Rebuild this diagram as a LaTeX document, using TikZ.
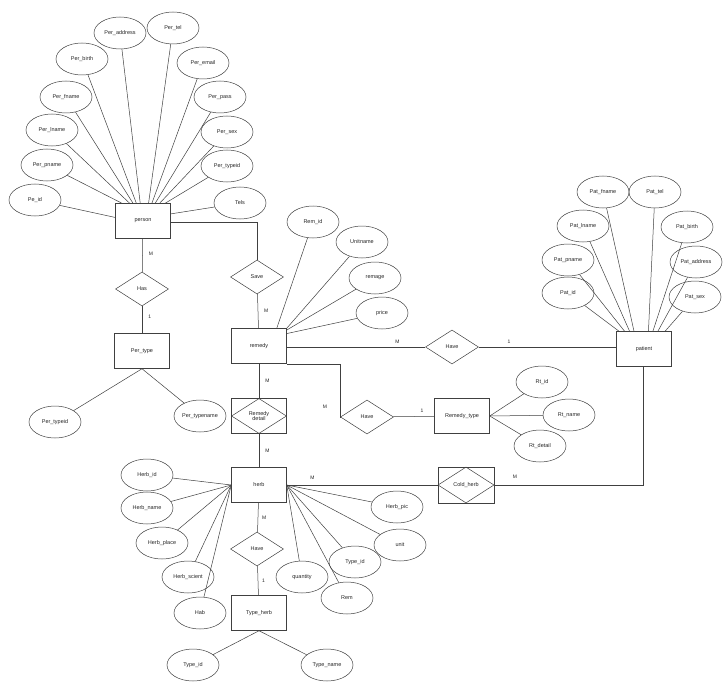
\documentclass[tikz,border=0pt]{standalone}
\usepackage{fontspec}
\setmainfont{Liberation Sans}
\usetikzlibrary{shapes.geometric,calc}
\begin{document}
\begin{tikzpicture}[x=1pt,y=-1pt,
  every node/.style={font=\fontsize{5.5}{6.5}\selectfont, text=black!85},
  attr/.style={ellipse, draw=black!75, line width=0.5pt, minimum width=52pt, minimum height=32pt, inner sep=0pt},
  ent/.style={rectangle, draw=black!75, line width=0.5pt, minimum width=55pt, minimum height=35pt, inner sep=0pt},
  rel/.style={diamond, draw=black!75, line width=0.5pt, minimum width=53pt, minimum height=34pt, inner sep=0pt, aspect=1.6},
  lnk/.style={draw=black!75, line width=0.5pt},
  card/.style={font=\fontsize{5}{6}\selectfont, inner sep=0pt}]
\useasboundingbox (0,0) rectangle (723,682);
\fill[white] (0,0) rectangle (723,682);

% ---------- person ----------
\node[ent] (person) at (143,221) {person};
\node[attr] (pad) at (120,33) {Per\_address};
\node[attr] (ptel) at (173,28) {Per\_tel};
\node[attr] (pbirth) at (82,59) {Per\_birth};
\node[attr] (pemail) at (203,63) {Per\_email};
\node[attr] (pfname) at (66,97) {Per\_fname};
\node[attr] (ppass) at (220,97) {Per\_pass};
\node[attr] (plname) at (52,130) {Per\_lname};
\node[attr] (psex) at (227,132) {Per\_sex};
\node[attr] (ppname) at (47,165) {Per\_pname};
\node[attr] (ptid) at (227,166) {Per\_typeid};
\node[attr] (pid) at (35,200) {Pe\_id};
\node[attr] (tels) at (240,203) {Tels};
\foreach \a/\x in {pad/0.45, ptel/0.60, pbirth/0.38, pemail/0.66, pfname/0.32, ppass/0.72, plname/0.26, psex/0.80, ppname/0.12} {
  \draw[lnk] (\a) -- ($(person.north west)!\x!(person.north east)$);
}
\draw[lnk] (pid) -- ($(person.north west)!0.4!(person.south west)$);
\draw[lnk] (ptid) -- ($(person.north west)!0.9!(person.north east)$);
\draw[lnk] (tels) -- ($(person.north east)!0.3!(person.south east)$);

% Has / Per_type
\node[rel] (has) at (142,289) {Has};
\node[ent] (ptype) at (142,351) {Per\_type};
\node[attr] (ptid2) at (55,422) {Per\_typeid};
\node[attr] (ptname) at (200,416) {Per\_typename};
\draw[lnk] (person) -- (has) node[card, pos=0.45, right=6pt] {M};
\draw[lnk] (has) -- (ptype) node[card, pos=0.4, right=6pt] {1};
\draw[lnk] (ptid2) -- (ptype.south);
\draw[lnk] (ptname) -- (ptype.south);

% Save / remedy
\node[rel] (save) at (257,277) {Save};
\node[ent] (remedy) at (259,346) {remedy};
\coordinate (pc) at (person.east |- 0,222);
\draw[lnk] (person.east |- pc) -| (save.north);
\draw[lnk] (save) -- (remedy) node[card, pos=0.5, right=6pt] {M};
\node[attr] (remid) at (313,222) {Rem\_id};
\node[attr] (unit) at (362,242) {Unitname};
\node[attr] (remage) at (375,278) {remage};
\node[attr] (price) at (382,313) {price};
\draw[lnk] (remid) -- ($(remedy.north west)!0.82!(remedy.north east)$);
\draw[lnk] (unit) -- (remedy.north east);
\draw[lnk] (remage) -- ($(remedy.north east)!0.05!(remedy.south east)$);
\draw[lnk] (price) -- ($(remedy.north east)!0.15!(remedy.south east)$);

% Have (patient)
\node[rel] (have1) at (452,347) {Have};
\node[ent] (patient) at (644,349) {patient};
\draw[lnk] (remedy.east |- have1) -- (have1) node[card, pos=0.8, above=3pt] {M};
\draw[lnk] (have1) -- (patient.west |- have1) node[card, pos=0.22, above=3pt] {1};
\node[attr] (pafn) at (603,192) {Pat\_fname};
\node[attr] (patel) at (655,192) {Pat\_tel};
\node[attr] (paln) at (583,226) {Pat\_lname};
\node[attr] (pabi) at (687,227) {Pat\_birth};
\node[attr] (papn) at (568,260) {Pat\_pname};
\node[attr] (paad) at (696,262) {Pat\_address};
\node[attr] (paid) at (568,293) {Pat\_id};
\node[attr] (pase) at (695,297) {Pat\_sex};
\foreach \a/\x in {pafn/0.32, patel/0.58, paln/0.24, pabi/0.66, papn/0.15, paad/0.75, paid/0.05, pase/0.88} {
  \draw[lnk] (\a) -- ($(patient.north west)!\x!(patient.north east)$);
}

% Have (Remedy_type)
\node[rel] (have2) at (367,417) {Have};
\node[ent] (rtype) at (462,416) {Remedy\_type};
\coordinate (rt1) at (340,362);
\draw[lnk] (remedy.south east) -- (rt1 |- remedy.south) |- (have2.west);
\node[card] at (325,407) {M};
\draw[lnk] (have2) -- (rtype) node[card, pos=0.7, above=4pt] {1};
\node[attr] (rtid) at (542,382) {Rt\_id};
\node[attr] (rtname) at (569,415) {Rt\_name};
\node[attr] (rtdet) at (540,446) {Rt\_detail};
\draw[lnk] (rtid) -- (rtype.east);
\draw[lnk] (rtname) -- (rtype.east);
\draw[lnk] (rtdet) -- (rtype.east);

% Remedy detail (associative)
\node[ent] (rdet) at (259,416) {};
\node[rel, minimum width=55pt, minimum height=35pt, align=center] (rdetd) at (rdet) {Remedy\\[-1pt]detail};
\draw[lnk] (remedy) -- (rdet) node[card, pos=0.5, right=6pt] {M};

% herb
\node[ent] (herb) at (259,485) {herb};
\draw[lnk] (rdet) -- (herb) node[card, pos=0.5, right=6pt] {M};
\node[attr] (hid) at (147,475) {Herb\_id};
\node[attr] (hname) at (147,508) {Herb\_name};
\node[attr] (hplace) at (162,543) {Herb\_place};
\node[attr] (hsci) at (188,577) {Herb\_scient};
\node[attr] (hab) at (200,613) {Hab};
\node[attr] (qty) at (302,577) {quantity};
\node[attr] (htid) at (355,562) {Type\_id};
\node[attr] (hos) at (347,598) {Rem};
\node[attr] (hpic) at (397,507) {Herb\_pic};
\node[attr] (hunit) at (400,545) {unit};
\coordinate (hl) at ($(herb.north west)!0.5!(herb.south west)$);
\coordinate (hr) at ($(herb.north east)!0.5!(herb.south east)$);
\foreach \a in {hid,hname,hplace,hsci,hab} { \draw[lnk] (\a) -- (hl); }
\foreach \a in {qty,htid,hos,hpic,hunit} { \draw[lnk] (\a) -- (hr); }

% Cold_herb
\node[ent, minimum width=56pt, minimum height=36pt] (cold) at (466,485) {};
\node[rel, minimum width=56pt, minimum height=36pt] (coldd) at (cold) {Cold\_herb};
\draw[lnk] (hr) -- (cold.west) node[card, pos=0.17, above=5pt] {M};
\coordinate (pc2) at (643,485);
\draw[lnk] (cold.east) -- (pc2) -- (patient.south -| pc2);
\node[card] at (515,477) {M};

% Have (Type_herb)
\node[rel] (have3) at (257,549) {Have};
\node[ent] (therb) at (259,613) {Type\_herb};
\draw[lnk] (herb) -- (have3) node[card, pos=0.5, right=4pt] {M};
\draw[lnk] (have3) -- (therb) node[card, pos=0.5, right=4pt] {1};
\node[attr] (ttid) at (193,665) {Type\_id};
\node[attr] (ttname) at (327,665) {Type\_name};
\draw[lnk] (ttid) -- (therb.south);
\draw[lnk] (ttname) -- (therb.south);
\end{tikzpicture}
\end{document}
